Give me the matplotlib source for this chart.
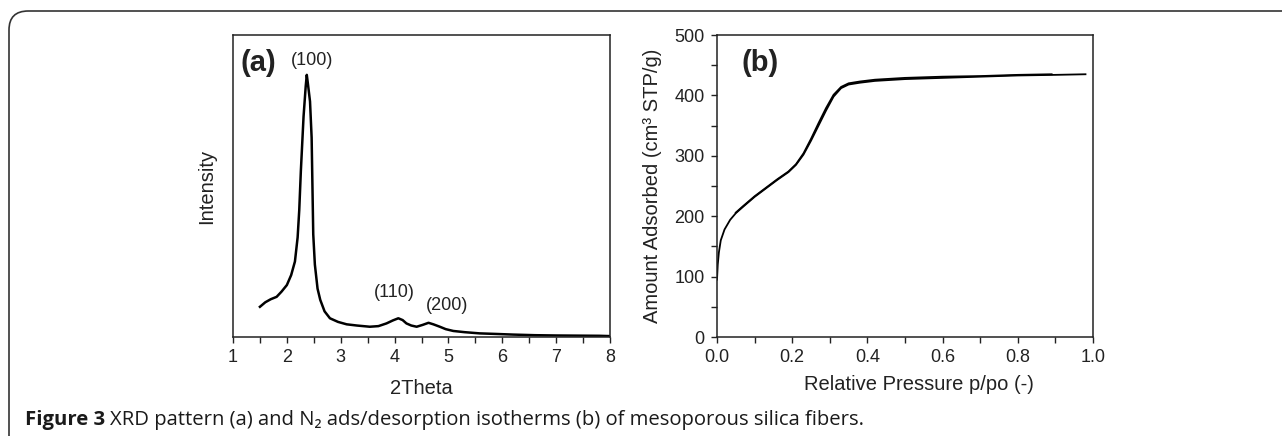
import matplotlib
matplotlib.use("Agg")
import matplotlib.pyplot as plt
from matplotlib.patches import FancyBboxPatch

# XRD pattern (a)
two_theta = [1.5, 1.6, 1.7, 1.81, 1.9, 2.0, 2.08, 2.15, 2.2, 2.23, 2.26, 2.31, 2.35, 2.37,
             2.39, 2.43, 2.46, 2.49, 2.52, 2.57, 2.62, 2.7, 2.8, 2.95, 3.11, 3.3, 3.54, 3.7,
             3.85, 3.97, 4.07, 4.15, 4.22, 4.31, 4.41, 4.52, 4.63, 4.72, 4.84, 4.95, 5.09,
             5.3, 5.58, 5.9, 6.2, 6.6, 7.0, 7.4, 7.8, 8.0]
intensity = [10, 11.5, 12.5, 13.3, 15, 17.2, 20.5, 25, 33, 42, 55, 73, 83, 86.8,
             84, 78, 66, 34, 24, 16, 12.3, 8.5, 6.2, 5, 4.2, 3.8, 3.4, 3.6,
             4.5, 5.5, 6.2, 5.6, 4.5, 3.8, 3.4, 4.0, 4.7, 4.2, 3.4, 2.6, 2.0,
             1.6, 1.2, 1.0, 0.8, 0.6, 0.5, 0.45, 0.4, 0.3]
peak_labels = ["(100)", "(110)", "(200)"]
peak_pos = [(2.47, 91.5), (4.0, 14.8), (4.98, 10.3)]

# N2 isotherm (b)
p_ads = [0, 0.002, 0.005, 0.01, 0.02, 0.035, 0.05, 0.07, 0.1, 0.13, 0.16, 0.19, 0.21,
         0.23, 0.25, 0.27, 0.29, 0.31, 0.33, 0.35, 0.38, 0.42, 0.5, 0.6, 0.7, 0.8, 0.9, 0.98]
v_ads = [95, 120, 140, 160, 178, 194, 205, 216, 232, 246, 260, 273, 285,
         302, 325, 350, 375, 398, 412, 418, 421, 424, 427, 429, 431, 433, 434, 435]
p_des = [0.89, 0.8, 0.7, 0.6, 0.5, 0.42, 0.38, 0.35, 0.33, 0.31, 0.29, 0.27, 0.25,
         0.23, 0.21, 0.19, 0.16, 0.13, 0.1, 0.07, 0.05]
v_des = [435, 434, 432, 431, 429, 426, 423, 420, 414, 401, 379, 354, 328,
         304, 286, 274, 261, 247, 233, 217, 206]

txt = "#222222"
plt.rcParams['font.family'] = ['Liberation Sans', 'DejaVu Sans']
plt.rcParams['text.color'] = txt
plt.rcParams['axes.labelcolor'] = txt
plt.rcParams['xtick.color'] = txt
plt.rcParams['ytick.color'] = txt

fig = plt.figure(figsize=(12.82, 4.36), dpi=100)

# outer frame (open to right and bottom)
frame = FancyBboxPatch((9 / 1282, -0.2), 1.2, 1.2 - 11 / 436,
                       boxstyle="round,pad=0,rounding_size=0.015",
                       transform=fig.transFigure, fill=False,
                       edgecolor="#333333", linewidth=1.2, mutation_aspect=2.9)
fig.add_artist(frame)

ax1 = fig.add_axes([233 / 1282, 1 - 337 / 436, 377 / 1282, 302 / 436])
ax2 = fig.add_axes([717 / 1282, 1 - 337 / 436, 376 / 1282, 302 / 436])

ax1.plot(two_theta, intensity, color="black", lw=1.8)
ax1.set_xlim(1, 8)
ax1.set_ylim(0, 100)
ax1.set_xticks(range(1, 9))
ax1.set_xticks([x + 0.5 for x in range(1, 8)], minor=True)
ax1.set_yticks([])
ax1.set_xlabel("2Theta", fontsize=14.5)
ax1.xaxis.set_label_coords(0.5, -0.139)
ax1.set_ylabel("Intensity", fontsize=14.5)
ax1.yaxis.set_label_coords(-0.045, 0.5)
ax1.text(0.02, 0.955, "(a)", transform=ax1.transAxes, fontsize=21,
         fontweight="bold", va="top", ha="left")
for lab, (x, y) in zip(peak_labels, peak_pos):
    ax1.text(x, y, lab, fontsize=13, ha="center", va="center")

ax2.plot(p_ads, v_ads, color="black", lw=1.3)
ax2.plot(p_des, v_des, color="black", lw=1.3)
ax2.set_xlim(0, 1)
ax2.set_ylim(0, 500)
ax2.set_xticks([0, 0.2, 0.4, 0.6, 0.8, 1.0])
ax2.set_xticklabels(["0.0", "0.2", "0.4", "0.6", "0.8", "1.0"])
ax2.set_xticks([0.1, 0.3, 0.5, 0.7, 0.9], minor=True)
ax2.set_yticks(range(0, 501, 100))
ax2.set_yticks(range(50, 500, 100), minor=True)
ax2.set_xlabel("Relative Pressure p/po (-)", fontsize=14.5)
ax2.xaxis.set_label_coords(0.537, -0.126)
ax2.set_ylabel("Amount Adsorbed (cm³ STP/g)", fontsize=14.5)
ax2.yaxis.set_label_coords(-0.146, 0.5)
ax2.text(0.065, 0.955, "(b)", transform=ax2.transAxes, fontsize=21,
         fontweight="bold", va="top", ha="left")

for ax in (ax1, ax2):
    for s in ax.spines.values():
        s.set_linewidth(1.1)
        s.set_color("#222222")
    ax.tick_params(which="both", direction="out", length=4, width=1.0,
                   labelsize=13, pad=5)

# caption
cap_font = ['Open Sans', 'DejaVu Sans']
t1 = fig.text(25 / 1282, 1 - 420 / 436, "Figure 3", fontsize=14.6, fontweight="bold",
              family=cap_font, va="center", ha="left", color="#1a1a1a")
fig.canvas.draw()
bb = t1.get_window_extent()
fig.text((bb.x1 + 5) / 1282, 1 - 420 / 436,
         "XRD pattern (a) and N₂ ads/desorption isotherms (b) of mesoporous silica fibers.",
         fontsize=14.6, family=cap_font, va="center", ha="left", color="#1a1a1a")

fig.savefig("out.png", dpi=100)
